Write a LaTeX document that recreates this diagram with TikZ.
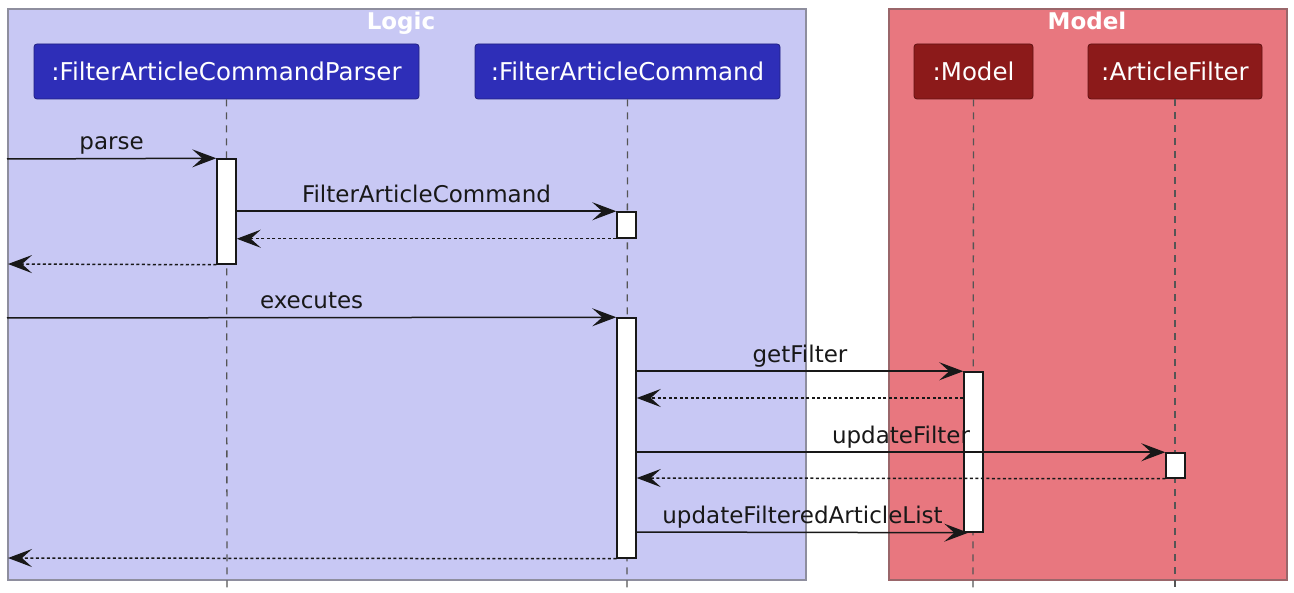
\documentclass[tikz,border=0pt]{standalone}
\usepackage{fontspec}
\setmainfont{DejaVu Sans}
\usetikzlibrary{arrows.meta}
\definecolor{logicbg}{HTML}{C8C8F4}
\definecolor{logicbd}{HTML}{8E8E9E}
\definecolor{modelbg}{HTML}{E8777F}
\definecolor{modelbd}{HTML}{9A666A}
\definecolor{partblue}{HTML}{2E2EB8}
\definecolor{partred}{HTML}{8C1A1A}
\definecolor{lifegray}{HTML}{555555}
\definecolor{ink}{HTML}{181818}
\tikzset{
  groupbox/.style={line width=1.3pt},
  grouptitle/.style={text=white, font=\fontsize{23}{27}\selectfont\bfseries, anchor=base, inner sep=0pt},
  participant/.style={rounded corners=3pt, text=white, font=\fontsize{24.5}{28}\selectfont, inner sep=0pt, minimum height=55pt, line width=0.8pt},
  lifeline/.style={draw=lifegray, line width=1.3pt, dash pattern=on 7pt off 6pt},
  actbar/.style={draw=ink, fill=white, line width=1.5pt, minimum width=19pt, inner sep=0pt},
  msg/.style={draw=ink, line width=1.5pt, -{Stealth[length=24pt, width=18pt, inset=10pt]}},
  ret/.style={msg, dash pattern=on 3pt off 2.5pt},
  msglabel/.style={font=\fontsize{23}{27}\selectfont, text=ink, anchor=base, inner sep=0pt, yshift=9pt}
}
\begin{document}
\begin{tikzpicture}[x=1pt, y=-1pt]
\useasboundingbox (0,0) rectangle (1294,593);

% groups
\draw[groupbox, draw=logicbd, fill=logicbg] (8,9) rectangle (806,580);
\draw[groupbox, draw=modelbd, fill=modelbg] (889,9) rectangle (1287,580);
\node[grouptitle] (tlogic) at (401,30) {Logic};
\node[grouptitle] (tmodel) at (1087,30) {Model};

% participants
\node[participant, draw=partblue!70!black, fill=partblue, minimum width=385pt] (pParser) at (226.5,71.5) {:FilterArticleCommandParser};
\node[participant, draw=partblue!70!black, fill=partblue, minimum width=305pt] (pCmd) at (627.5,71.5) {:FilterArticleCommand};
\node[participant, draw=partred!70!black, fill=partred, minimum width=119pt] (pModel) at (973.5,71.5) {:Model};
\node[participant, draw=partred!70!black, fill=partred, minimum width=174pt] (pFilter) at (1175,71.5) {:ArticleFilter};

% lifeline ends
\coordinate (eParser) at (227,593);
\coordinate (eCmd) at (627,593);
\coordinate (eModel) at (973,593);
\coordinate (eFilter) at (1175,593);
\draw[lifeline] (pParser.south) -- (eParser);
\draw[lifeline] (pCmd.south) -- (eCmd);
\draw[lifeline] (pModel.south) -- (eModel);
\draw[lifeline] (pFilter.south) -- (eFilter);

% activation bars
\node[actbar, minimum height=105pt] (act1) at (226.5,211.5) {};
\node[actbar, minimum height=26pt] (act2) at (626.5,225) {};
\node[actbar, minimum height=240pt] (act3) at (626.5,438) {};
\node[actbar, minimum height=160pt] (act4) at (973.5,452) {};
\node[actbar, minimum height=25pt] (act5) at (1175.5,465.5) {};

% free ends and levels
\coordinate (in1) at (7,159);
\coordinate (out1) at (8,264);
\coordinate (in2) at (7,318);
\coordinate (out2) at (8,558);
\coordinate (y398) at (0,398);
\coordinate (y478) at (0,478);
\coordinate (y532) at (0,532);

% messages
\draw[msg] (in1) -- (act1.north west) node[msglabel, midway] {parse};
\draw[msg] (act1.east |- act2.north) -- (act2.north west) node[msglabel, midway] {FilterArticleCommand};
\draw[ret] (act2.south west) -- (act1.east |- act2.south);
\draw[ret] (act1.south west) -- (out1);
\draw[msg] (in2) -- (act3.north west) node[msglabel, midway] {executes};
\draw[msg] (act3.east |- act4.north) -- (act4.north west) node[msglabel, midway] {getFilter};
\draw[ret] (act4.west |- y398) -- (act3.east |- y398);
\draw[msg] (act3.east |- act5.north) -- (act5.north west) node[msglabel, midway] {updateFilter};
\draw[ret] (act5.south west) -- (act3.east |- y478);
\draw[msg] (act3.east |- y532) -- ([xshift=5pt]act4.south west) node[msglabel, midway] {updateFilteredArticleList};
\draw[ret] (act3.south west) -- (out2);
\end{tikzpicture}
\end{document}
